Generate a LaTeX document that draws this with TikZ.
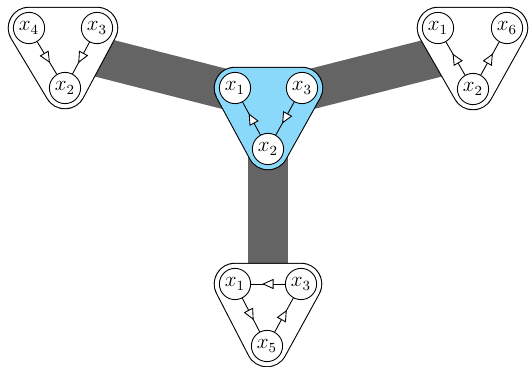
\documentclass[tikz,border=0pt]{standalone}
\usetikzlibrary{arrows.meta,decorations.markings}
\definecolor{hubblue}{RGB}{138,216,250}
\definecolor{bandgray}{RGB}{100,100,100}
\pgfdeclarelayer{background}
\pgfsetlayers{background,main}
\begin{document}
\begin{tikzpicture}[x=0.57pt,y=-0.57pt,line width=0.5pt,
  var/.style={circle,draw,fill=white,minimum size=17.8pt,inner sep=0pt,font=\large},
  cluster/.style={line width=0.6pt,draw=black,double=#1,double distance=23pt,fill=#1,line join=round},
  band/.style={draw=bandgray,line width=22.8pt},
  dep/.style={postaction=decorate,decoration={markings,mark=at position 0.5 with {\arrow[xshift=3.3pt]{Triangle[length=6.5pt,width=5.8pt,fill=white]}}}}]
\useasboundingbox (0,0) rectangle (530,367);
% left cluster
\node[var] (L4) at (29,28) {$x_4$};
\node[var] (L3) at (97,28) {$x_3$};
\node[var] (L2) at (65,88) {$x_2$};
% centre cluster
\node[var] (C1) at (235,88) {$x_1$};
\node[var] (C3) at (302,88) {$x_3$};
\node[var] (C2) at (268,149) {$x_2$};
% right cluster
\node[var] (R1) at (438,28) {$x_1$};
\node[var] (R6) at (507,28) {$x_6$};
\node[var] (R2) at (473,89) {$x_2$};
% bottom cluster
\node[var] (B1) at (235,284) {$x_1$};
\node[var] (B3) at (301,284) {$x_3$};
\node[var] (B5) at (267,346) {$x_5$};
\coordinate (hub) at (268,100);
\coordinate (Lc) at (64,48);
\coordinate (Rc) at (473,48);
\coordinate (Bc) at (268,305);
\draw[dep] (L4) -- (L2);
\draw[dep] (L3) -- (L2);
\draw[dep] (C2) -- (C1);
\draw[dep] (C3) -- (C2);
\draw[dep] (R2) -- (R1);
\draw[dep] (R2) -- (R6);
\draw[dep] (B3) -- (B1);
\draw[dep] (B1) -- (B5);
\draw[dep] (B5) -- (B3);
\begin{pgfonlayer}{background}
\draw[band] (hub) -- (Lc);
\draw[band] (hub) -- (Rc);
\draw[band] (hub) -- (Bc);
\path[cluster=white] (L4.center) -- (L3.center) -- (L2.center) -- cycle;
\path[cluster=hubblue] (C1.center) -- (C3.center) -- (C2.center) -- cycle;
\path[cluster=white] (R1.center) -- (R6.center) -- (R2.center) -- cycle;
\path[cluster=white] (B1.center) -- (B3.center) -- (B5.center) -- cycle;
\end{pgfonlayer}
\end{tikzpicture}
\end{document}
